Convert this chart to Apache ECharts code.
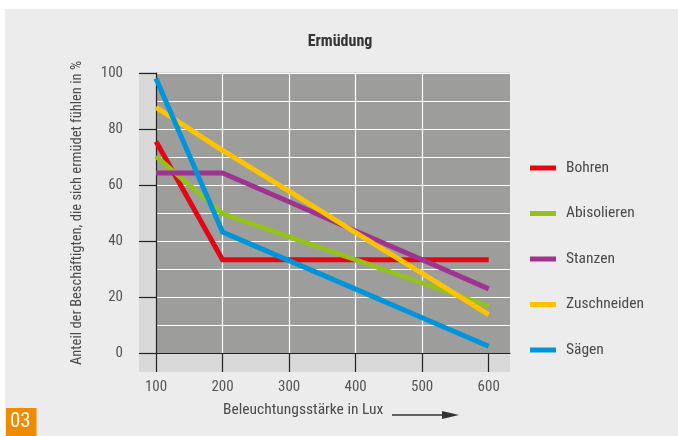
<!DOCTYPE html>
<html>
<head>
<meta charset="utf-8">
<script src="https://cdn.jsdelivr.net/npm/echarts@6/dist/echarts.min.js"></script>
<style>
html,body{margin:0;padding:0;background:#ffffff;}
#chart{width:678px;height:436px;}
</style>
</head>
<body>
<div id="chart"></div>
<script>
var xValues = [100, 200, 300, 400, 500, 600];
var seriesNames = ['Bohren', 'Abisolieren', 'Stanzen', 'Zuschneiden', 'Sägen'];
var bohren = [75.5, 33.3, 33.3, 33.3, 33.3, 33.3];
var abisolieren = [70.2, 49.8, 41.5, 33.3, 25.0, 16.7];
var stanzen = [64.3, 64.3, 54.0, 43.6, 33.3, 22.9];
var zuschneiden = [87.7, 72.4, 57.8, 43.0, 28.4, 13.7];
var saegen = [98.0, 43.2, 33.0, 22.8, 12.6, 2.4];
var seriesColors = ['#e30613', '#95c11f', '#9f3490', '#fdc300', '#0095db'];
var yTicks = [0, 20, 40, 60, 80, 100];

var font = '"Liberation Sans Narrow", "Roboto Condensed", Roboto, sans-serif';
var allData = [bohren, abisolieren, stanzen, zuschneiden, saegen];

function pairs(vals) {
  return xValues.map(function (x, i) { return [x, vals[i]]; });
}

var chart = echarts.init(document.getElementById('chart'), null, {renderer: 'canvas'});
var option = {
  backgroundColor: '#ffffff',
  animation: false,
  textStyle: {fontFamily: font},
  title: {
    text: 'Ermüdung',
    left: 335, top: 29, textAlign: 'center',
    textStyle: {fontFamily: font, fontSize: 16, fontWeight: 'bold', color: '#333333'}
  },
  graphic: [
    {type: 'rect', z: -10, shape: {x: 5, y: 9, width: 673, height: 427}, style: {fill: '#ececec'}},
    {type: 'rect', z: 10, shape: {x: 6, y: 408, width: 30.5, height: 28}, style: {fill: '#f08a00'}},
    {type: 'text', z: 11, left: 10, top: 411, style: {text: '03', fill: '#ffffff', font: '21px ' + font}},
    {type: 'text', z: 11, left: 223, top: 402, style: {text: 'Beleuchtungsstärke in Lux', fill: '#4a4a4a', font: '15.5px ' + font}},
    {type: 'line', z: 11, shape: {x1: 392, y1: 415, x2: 446, y2: 415}, style: {stroke: '#333333', lineWidth: 1.5}},
    {type: 'polygon', z: 11, shape: {points: [[442, 411], [459, 415], [442, 419]]}, style: {fill: '#333333'}}
  ],
  legend: {
    orient: 'vertical',
    left: 525, top: 155,
    itemWidth: 26, itemHeight: 5, itemGap: 29.5,
    icon: 'rect',
    data: seriesNames,
    textStyle: {fontFamily: font, fontSize: 15.5, color: '#4a4a4a', padding: [0, 0, 0, 5], lineHeight: 16}
  },
  grid: [
    {left: 139, right: 168, top: 72, bottom: 64, show: true, backgroundColor: '#d9d9d9', borderWidth: 0},
    {left: 156, right: 168, top: 73, bottom: 83, show: true, backgroundColor: '#9d9d9c', borderWidth: 0}
  ],
  xAxis: [
    {gridIndex: 0, type: 'value', show: false, min: 0, max: 1},
    {
      gridIndex: 1, type: 'value', min: 100, max: 632, interval: 100,
      axisLine: {show: true, onZero: false, lineStyle: {color: '#222222', width: 1.2}},
      axisTick: {show: true, inside: false, length: 19, lineStyle: {color: '#222222', width: 1.2},
        customValues: xValues},
      axisLabel: {margin: 27, fontFamily: font, fontSize: 15, color: '#555555',
        customValues: xValues},
      splitLine: {show: true, showMinLine: false, showMaxLine: false, lineStyle: {color: '#ffffff', width: 1.2}}
    }
  ],
  yAxis: [
    {gridIndex: 0, type: 'value', show: false, min: 0, max: 100},
    {
      gridIndex: 1, type: 'value', min: 0, max: 100, interval: 20,
      name: 'Anteil der Beschäftigten, die sich ermüdet fühlen in %',
      nameLocation: 'middle', nameGap: 71, nameRotate: 90,
      nameTextStyle: {fontFamily: font, fontSize: 14.5, color: '#4a4a4a'},
      axisLine: {show: true, lineStyle: {color: '#222222', width: 1.2}},
      axisTick: {show: true, length: 17, lineStyle: {color: '#222222', width: 1.2}},
      axisLabel: {margin: 33, fontFamily: font, fontSize: 15, color: '#555555'},
      splitLine: {show: true, showMinLine: false, lineStyle: {color: '#ffffff', width: 1.2}},
      minorTick: {show: false, splitNumber: 2},
      minorSplitLine: {show: true, lineStyle: {color: '#ffffff', width: 1.2}}
    }
  ],
  series: seriesNames.map(function (name, i) {
    return {
      name: name, type: 'line', xAxisIndex: 1, yAxisIndex: 1,
      data: pairs(allData[i]),
      showSymbol: false, symbol: 'none',
      color: seriesColors[i],
      lineStyle: {width: 5, color: seriesColors[i], cap: 'butt', join: 'miter'},
      z: 5 + i
    };
  })
};
chart.setOption(option);
</script>
</body>
</html>
